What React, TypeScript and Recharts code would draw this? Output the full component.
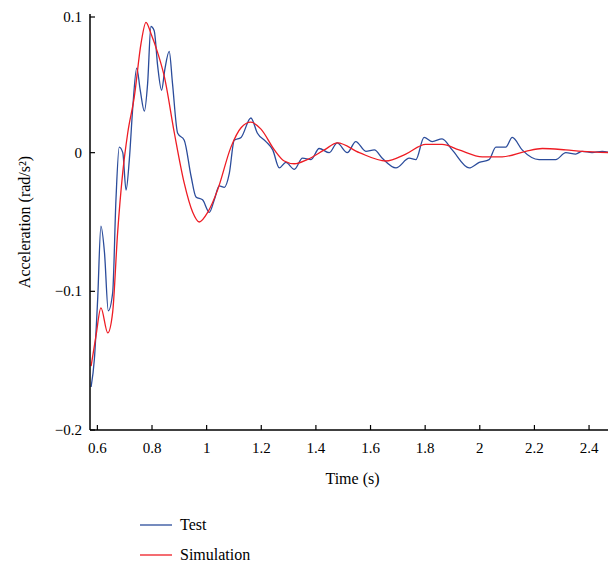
import { LineChart, Line, XAxis, YAxis } from "recharts";

const testTime = [0.577, 0.589, 0.601, 0.613, 0.626, 0.64, 0.656, 0.668, 0.68, 0.693, 0.705, 0.717, 0.729, 0.744, 0.757, 0.772, 0.784, 0.796, 0.808, 0.821, 0.835, 0.847, 0.863, 0.875, 0.894, 0.918, 0.943, 0.961, 0.985, 1.01, 1.028, 1.046, 1.065, 1.083, 1.101, 1.126, 1.162, 1.186, 1.217, 1.242, 1.266, 1.29, 1.321, 1.351, 1.382, 1.412, 1.449, 1.478, 1.515, 1.546, 1.583, 1.614, 1.643, 1.693, 1.742, 1.766, 1.796, 1.826, 1.862, 1.899, 1.961, 1.998, 2.034, 2.059, 2.095, 2.119, 2.155, 2.217, 2.278, 2.315, 2.351, 2.375, 2.411, 2.448, 2.49];
const testAcc = [-0.169, -0.149, -0.106, -0.053, -0.072, -0.114, -0.101, -0.034, 0.004, 0.0, -0.027, -0.005, 0.031, 0.061, 0.045, 0.03, 0.05, 0.091, 0.088, 0.062, 0.045, 0.06, 0.073, 0.05, 0.014, 0.009, -0.017, -0.032, -0.034, -0.043, -0.034, -0.024, -0.025, -0.015, 0.009, 0.011, 0.025, 0.014, 0.008, 0.002, -0.011, -0.007, -0.012, -0.004, -0.005, 0.003, 0.0, 0.007, 0.0, 0.008, 0.001, 0.002, -0.004, -0.011, -0.004, -0.005, 0.011, 0.008, 0.01, 0.002, -0.011, -0.007, -0.005, 0.004, 0.004, 0.011, 0.002, -0.005, -0.005, 0.0, -0.001, 0.001, 0.0, 0.001, -0.001];

const simTime = [0.577, 0.595, 0.613, 0.638, 0.656, 0.674, 0.693, 0.711, 0.735, 0.76, 0.778, 0.796, 0.821, 0.845, 0.882, 0.918, 0.949, 0.973, 1.004, 1.04, 1.089, 1.126, 1.162, 1.199, 1.248, 1.284, 1.321, 1.368, 1.431, 1.479, 1.559, 1.656, 1.729, 1.802, 1.862, 1.924, 2.009, 2.082, 2.168, 2.229, 2.315, 2.375, 2.49];
const simAcc = [-0.154, -0.132, -0.112, -0.13, -0.115, -0.058, -0.014, 0.014, 0.04, 0.079, 0.094, 0.086, 0.072, 0.055, 0.014, -0.022, -0.043, -0.05, -0.043, -0.027, 0.004, 0.018, 0.022, 0.017, 0.002, -0.006, -0.008, -0.005, 0.002, 0.007, 0.0, -0.006, -0.001, 0.006, 0.006, 0.002, -0.003, -0.003, 0.001, 0.003, 0.002, 0.001, 0.0];

const xTicks = [0.6, 0.8, 1, 1.2, 1.4, 1.6, 1.8, 2, 2.2, 2.4];
const yTicks = [-0.2, -0.1, 0, 0.1];

const testData = testTime.map((t, i) => ({ t, v: testAcc[i] }));
const simData = simTime.map((t, i) => ({ t, v: simAcc[i] }));

const font = "'Liberation Serif', 'Times New Roman', serif";

function fmtY(v: number) {
  if (v === 0) return "0";
  return v < 0 ? "\u2212" + Math.abs(v) : String(v);
}

// ticks drawn inward, label outside
function BottomTick(props: any) {
  const { x, y, payload } = props;
  return (
    <g>
      <line x1={x} y1={y} x2={x} y2={y - 5} stroke="#000" strokeWidth={1.2} />
      <text x={x} y={y + 23} textAnchor="middle" fontSize={15} fontFamily={font} fill="#000">{payload.value}</text>
    </g>
  );
}
function TopTick(props: any) {
  const { x, y } = props;
  return <line x1={x} y1={y} x2={x} y2={y + 5} stroke="#000" strokeWidth={1.2} />;
}
function LeftTick(props: any) {
  const { x, y, payload } = props;
  return (
    <g>
      <line x1={x} y1={y} x2={x + 5} y2={y} stroke="#000" strokeWidth={1.2} />
      <text x={x - 8} y={y + 5} textAnchor="end" fontSize={15} fontFamily={font} fill="#000">{fmtY(payload.value)}</text>
    </g>
  );
}
function RightTick(props: any) {
  const { x, y } = props;
  return <line x1={x} y1={y} x2={x - 5} y2={y} stroke="#000" strokeWidth={1.2} />;
}

export default function App() {
  return (
    <div style={{ fontFamily: font }}>
      <LineChart width={608} height={480} margin={{ top: 6, right: 0, left: 0, bottom: 0 }}>
        <XAxis xAxisId="b" dataKey="t" type="number" domain={[0.573, 2.495]} ticks={xTicks} allowDataOverflow
          height={58} tickSize={0} tickMargin={0} tickLine={false} tick={<BottomTick />}
          axisLine={{ stroke: "#000", strokeWidth: 1.5 }}
          label={{ value: "Time (s)", position: "insideBottom", offset: 4, fill: "#000", fontSize: 16, fontFamily: font }} />
        <XAxis xAxisId="top" dataKey="t" type="number" orientation="top" domain={[0.573, 2.495]} ticks={xTicks} allowDataOverflow
          height={0} tickSize={0} tickMargin={0} tickLine={false} tick={<TopTick />}
          axisLine={{ stroke: "#000", strokeWidth: 1.5 }} />
        <YAxis yAxisId="l" domain={[-0.2, 0.1]} ticks={yTicks} width={82}
          tickSize={0} tickMargin={0} tickLine={false} tick={<LeftTick />}
          axisLine={{ stroke: "#000", strokeWidth: 1.5 }}
          label={{ value: "Acceleration (rad/s²)", angle: -90, position: "insideLeft", offset: 16, style: { textAnchor: "middle" }, fill: "#000", fontSize: 16, fontFamily: font }} />
        <YAxis yAxisId="r" orientation="right" domain={[-0.2, 0.1]} ticks={yTicks} width={1}
          tickSize={0} tickMargin={0} tickLine={false} tick={<RightTick />}
          axisLine={{ stroke: "#000", strokeWidth: 1.5 }} />
        <Line xAxisId="b" yAxisId="l" data={testData} dataKey="v" type="monotone" stroke="#2b4c9b" strokeWidth={1.3} dot={false} isAnimationActive={false} />
        <Line xAxisId="b" yAxisId="l" data={simData} dataKey="v" type="monotone" stroke="#ee1c24" strokeWidth={1.3} dot={false} isAnimationActive={false} />
      </LineChart>
      <div style={{ position: "absolute", left: 140, top: 510, fontSize: 16, lineHeight: "30px" }}>
        <div style={{ display: "flex", alignItems: "center" }}>
          <svg width={40} height={10}><line x1={0} y1={5} x2={32} y2={5} stroke="#2b4c9b" strokeWidth={1.3} /></svg>
          <span>Test</span>
        </div>
        <div style={{ display: "flex", alignItems: "center" }}>
          <svg width={40} height={10}><line x1={0} y1={5} x2={32} y2={5} stroke="#ee1c24" strokeWidth={1.3} /></svg>
          <span>Simulation</span>
        </div>
      </div>
    </div>
  );
}
